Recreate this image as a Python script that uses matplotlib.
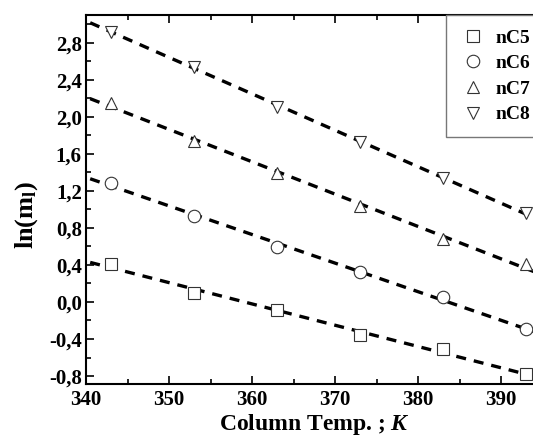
import numpy as np
import matplotlib.pyplot as plt
from matplotlib.ticker import MultipleLocator, FuncFormatter

# values
temp = [343, 353, 363, 373, 383, 393]
nC5 = [0.41, 0.10, -0.09, -0.36, -0.51, -0.78]
nC6 = [1.29, 0.93, 0.59, 0.32, 0.05, -0.29]
nC7 = [2.15, 1.74, 1.39, 1.04, 0.68, 0.41]
nC8 = [2.92, 2.54, 2.11, 1.73, 1.34, 0.96]
labels = ['nC5', 'nC6', 'nC7', 'nC8']
markers = ['s', 'o', '^', 'v']

plt.rcParams['font.family'] = ['Liberation Serif', 'DejaVu Serif']
plt.rcParams['mathtext.fontset'] = 'custom'
plt.rcParams['mathtext.rm'] = 'Liberation Serif:bold'
plt.rcParams['mathtext.it'] = 'Liberation Serif:bold:italic'

fig = plt.figure(figsize=(5.33, 4.38), dpi=100)
ax = fig.add_axes([0.1614, 0.1233, 0.8565, 0.8425])

xfit = np.array([340.5, 396.0])
for ys, m, lab in zip([nC5, nC6, nC7, nC8], markers, labels):
    k, b = np.polyfit(temp, ys, 1)
    ax.plot(xfit, k * xfit + b, color='black', lw=2.4, ls=(0, (3.0, 2.4)), zorder=2)
    ax.plot(temp, ys, ls='none', marker=m, ms=9, mfc='white', mec='#333333',
            mew=0.8, label=lab, zorder=3)

ax.set_xlim(340, 395)
ax.set_ylim(-0.886, 3.1)
ax.xaxis.set_major_locator(MultipleLocator(10))
ax.xaxis.set_minor_locator(MultipleLocator(5))
ax.yaxis.set_major_locator(MultipleLocator(0.4))
ax.yaxis.set_minor_locator(MultipleLocator(0.2))
ax.yaxis.set_major_formatter(FuncFormatter(lambda v, p: f'{v:.1f}'.replace('.', ',')))
ax.tick_params(which='both', direction='in', top=True, right=True, width=1.2)
ax.tick_params(which='major', length=6, labelsize=15, pad=4)
ax.tick_params(axis='y', which='major', pad=3)
ax.tick_params(which='minor', length=3.5)
for t in ax.get_xticklabels() + ax.get_yticklabels():
    t.set_fontweight('bold')
for s in ax.spines.values():
    s.set_linewidth(1.5)

ax.set_xlabel(r'Column Temp. ; $K$', fontsize=17, fontweight='bold', labelpad=2)
ax.set_ylabel(r'ln(m$_\mathregular{l}$)', fontsize=19, fontweight='bold')
ax.yaxis.set_label_coords(-0.10, 0.458)

leg = ax.legend(loc='upper left', bbox_to_anchor=(446 / 533, 1 - 15 / 438),
                bbox_transform=fig.transFigure, borderaxespad=0, fancybox=False,
                framealpha=1, edgecolor='#777777', prop={'weight': 'bold', 'size': 14},
                handletextpad=0.55, labelspacing=0.41, borderpad=0.72, handlelength=1.3)
leg.get_frame().set_linewidth(1.0)

fig.savefig('out.png', dpi=100)
